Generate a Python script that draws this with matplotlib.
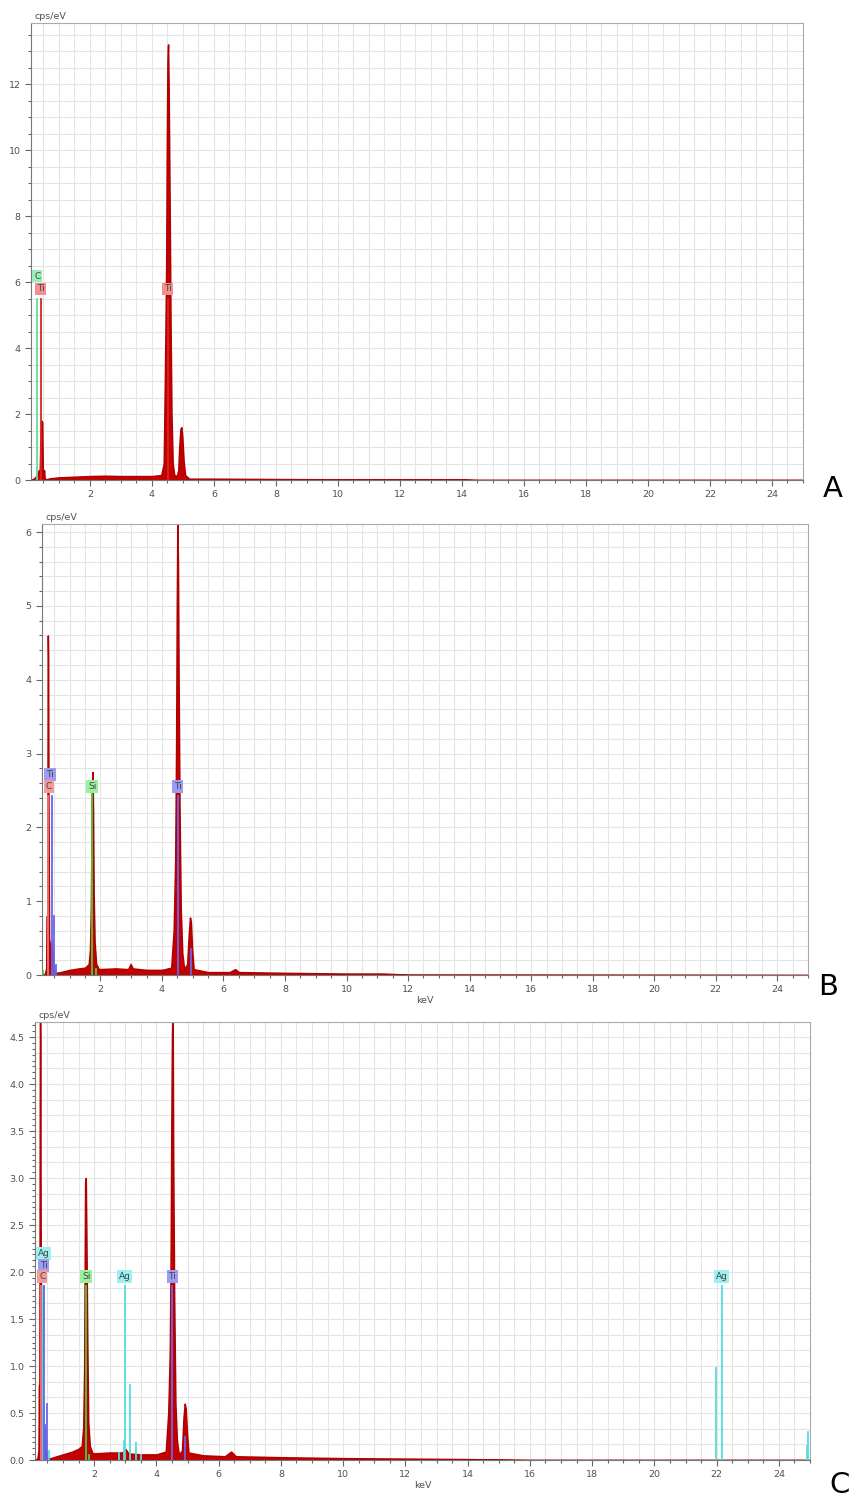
import numpy as np
import matplotlib.pyplot as plt
from matplotlib.ticker import MultipleLocator, FormatStrFormatter

# ---- spettro A (keV, cps/eV) ----
a_kev = [0.10, 0.20, 0.25, 0.30, 0.35, 0.38, 0.40, 0.43, 0.46, 0.48, 0.50, 0.52, 0.54,
         0.60, 0.70, 1.0, 1.5, 2.0, 2.5, 3.0, 3.5, 4.0, 4.30, 4.38, 4.42, 4.46, 4.48,
         4.50, 4.52, 4.54, 4.57, 4.60, 4.63, 4.67, 4.72, 4.80, 4.85, 4.88, 4.92, 4.95,
         4.98, 5.02, 5.07, 5.2, 6.0, 8.0, 10.0, 12.0, 14.0, 14.5, 25.0]
a_cps = [0.0, 0.05, 0.10, 0.20, 0.30, 0.20, 1.10, 1.80, 1.75, 0.30, 0.10, 0.30, 0.05,
         0.02, 0.05, 0.08, 0.10, 0.12, 0.13, 0.12, 0.12, 0.12, 0.15, 0.50, 3.20, 6.50, 10.2,
         12.7, 13.2, 11.8, 8.5, 4.8, 2.0, 0.5, 0.15, 0.12, 0.30, 1.00, 1.55, 1.60,
         1.30, 0.60, 0.15, 0.04, 0.04, 0.03, 0.02, 0.02, 0.02, 0.0, 0.0]
a_line_el = ['C', 'Ti', 'Ti']
a_line_kev = [0.30, 0.41, 4.51]
a_line_h = [5.5, 5.5, 5.5]
a_tag_el = ['C', 'Ti', 'Ti']
a_tag_kev = [0.30, 0.41, 4.51]
a_tag_y = [6.18, 5.79, 5.79]

# ---- spettro B ----
b_kev = [0.115, 0.20, 0.24, 0.26, 0.27, 0.28, 0.29, 0.30, 0.31, 0.33, 0.36, 0.38, 0.42,
         0.46, 0.50, 0.60, 0.80, 1.0, 1.3, 1.5, 1.62, 1.66, 1.69, 1.72, 1.74, 1.76, 1.78,
         1.81, 1.86, 1.95, 2.5, 2.9, 2.98, 3.05, 3.5, 4.0, 4.30, 4.38, 4.43, 4.46, 4.48,
         4.50, 4.52, 4.54, 4.57, 4.61, 4.66, 4.72, 4.82, 4.87, 4.91, 4.94, 4.98, 5.03,
         5.5, 6.2, 6.38, 6.5, 8.0, 10.0, 11.2, 12.0, 14.0, 25.0]
b_cps = [0.0, 0.02, 0.10, 0.80, 0.10, 2.95, 4.60, 4.30, 2.40, 0.50, 0.40, 0.10, 0.45,
         0.15, 0.05, 0.03, 0.05, 0.07, 0.09, 0.10, 0.15, 0.35, 0.95, 2.50, 2.75, 2.20, 1.10,
         0.45, 0.15, 0.08, 0.09, 0.08, 0.15, 0.09, 0.07, 0.07, 0.10, 0.60, 1.55, 3.10, 4.85,
         6.10, 5.60, 4.10, 2.30, 0.90, 0.30, 0.08, 0.15, 0.55, 0.78, 0.72, 0.35, 0.08,
         0.04, 0.04, 0.08, 0.04, 0.03, 0.02, 0.02, 0.005, 0.005, 0.0]
b_line_el = ['Si', 'C', 'Ti', 'Ti', 'Ti', 'Si', 'Si', 'Ti', 'Ti']
b_line_kev = [0.12, 0.28, 0.41, 0.48, 0.57, 1.74, 1.84, 4.51, 4.93]
b_line_h = [0.05, 2.43, 2.43, 0.80, 0.13, 2.45, 0.08, 2.43, 0.35]
b_tag_el = ['Ti', 'C', 'Si', 'Ti']
b_tag_kev = [0.36, 0.33, 1.74, 4.51]
b_tag_y = [2.72, 2.55, 2.55, 2.55]

# ---- spettro C ----
c_kev = [0.10, 0.18, 0.21, 0.23, 0.24, 0.25, 0.26, 0.27, 0.28, 0.29, 0.31, 0.33, 0.36,
         0.40, 0.44, 0.50, 0.60, 0.80, 1.0, 1.3, 1.5, 1.60, 1.65, 1.68, 1.71, 1.73, 1.75,
         1.78, 1.81, 1.86, 1.95, 2.5, 2.9, 3.0, 3.1, 3.5, 4.0, 4.30, 4.38, 4.43, 4.46,
         4.48, 4.50, 4.52, 4.54, 4.57, 4.61, 4.66, 4.72, 4.82, 4.87, 4.91, 4.94, 4.98,
         5.03, 5.5, 6.2, 6.4, 6.55, 8.0, 10.0, 12.0, 14.0, 16.0, 25.0]
c_cps = [0.0, 0.02, 0.10, 0.80, 0.30, 3.10, 4.90, 4.45, 2.50, 1.85, 0.45, 0.20, 0.05,
         0.35, 0.10, 0.02, 0.02, 0.04, 0.06, 0.09, 0.12, 0.15, 0.35, 1.00, 2.95, 3.00, 2.40,
         1.25, 0.40, 0.15, 0.07, 0.08, 0.08, 0.12, 0.07, 0.06, 0.06, 0.09, 0.50, 1.15, 2.30,
         3.60, 4.50, 4.90, 3.20, 1.75, 0.60, 0.20, 0.06, 0.10, 0.45, 0.60, 0.55, 0.30,
         0.08, 0.05, 0.04, 0.09, 0.04, 0.03, 0.02, 0.015, 0.01, 0.0, 0.0]
c_line_el = ['C', 'Ag', 'Ti', 'Ti', 'Ti', 'Ag', 'Si', 'Si', 'Ag', 'Ag', 'Ag', 'Ag',
             'Ag', 'Ag', 'Ti', 'Ti', 'Ag', 'Ag', 'Ag', 'Ag']
c_line_kev = [0.28, 0.35, 0.40, 0.43, 0.48, 0.56, 1.74, 1.84, 2.81, 2.95, 2.98, 3.15,
              3.35, 3.52, 4.51, 4.93, 21.99, 22.16, 24.90, 24.95]
c_line_h = [1.85, 1.85, 1.85, 0.37, 0.60, 0.10, 1.85, 0.05, 0.08, 0.20, 1.85, 0.80,
            0.18, 0.05, 1.85, 0.25, 0.98, 1.85, 0.15, 0.30]
c_tag_el = ['Ag', 'Ti', 'C', 'Si', 'Ag', 'Ti', 'Ag']
c_tag_kev = [0.38, 0.38, 0.33, 1.74, 2.98, 4.51, 22.16]
c_tag_y = [2.2, 2.07, 1.95, 1.95, 1.95, 1.95, 1.95]

# colori
red = '#c40000'
txt = '#505050'
line_col_a = {'C': '#66dd99', 'Ti': '#dd2222'}
tag_col_a = {'C': '#99eebb', 'Ti': '#f09090'}
line_col = {'C': '#ee7777', 'Ti': '#6666ee', 'Si': '#44cc44', 'Ag': '#55dddd'}
tag_col = {'C': '#f39a9a', 'Ti': '#9c9cf2', 'Si': '#9cf09c', 'Ag': '#9cf0f0'}

fig = plt.figure(figsize=(8.5, 15.01), dpi=100)


def pannello(rect, kev, cps, ymax, ygrid, ytick, ymajor, yfmt,
             l_el, l_kev, l_h, t_el, t_kev, t_y, lcol, tcol, lettera, lett_xy, xlab):
    ax = fig.add_axes(rect)
    ax.set_xlim(0.1, 25.0)
    ax.set_ylim(0, ymax)
    # griglia
    for gx in np.arange(0.5, 25.0, 0.5):
        ax.axvline(gx, color='#e4e4e4', lw=0.8, zorder=0)
    for gy in np.arange(ygrid, ymax, ygrid):
        ax.axhline(gy, color='#e4e4e4', lw=0.8, zorder=0)
    ax.fill_between(kev, cps, 0, color=red, lw=1.1, edgecolor='#b00000', zorder=2)
    for el, x, h in zip(l_el, l_kev, l_h):
        ax.plot([x, x], [0, h], color=lcol[el], lw=1.3, zorder=3)
    for el, x, y in zip(t_el, t_kev, t_y):
        ax.text(x, y, el, ha='center', va='center', fontsize=6.5, color='#444444',
                bbox=dict(boxstyle='square,pad=0.2', fc=tcol[el], ec='none'),
                zorder=4, clip_on=True)
    ax.xaxis.set_major_locator(MultipleLocator(2))
    ax.xaxis.set_minor_locator(MultipleLocator(0.5))
    ax.yaxis.set_major_locator(MultipleLocator(ymajor))
    ax.yaxis.set_minor_locator(MultipleLocator(ytick))
    ax.yaxis.set_major_formatter(FormatStrFormatter(yfmt))
    ax.tick_params(which='both', direction='out', colors='#666666', labelcolor=txt,
                   labelsize=6.8, width=0.8)
    ax.tick_params(which='major', length=4)
    ax.tick_params(which='minor', length=2.5)
    for s in ['top', 'right']:
        ax.spines[s].set_color('#aaaaaa')
    for s in ['left', 'bottom']:
        ax.spines[s].set_color('#777777')
    ax.text(0.005, 1.005, 'cps/eV', transform=ax.transAxes, fontsize=6.8, color=txt,
            ha='left', va='bottom')
    if xlab:
        ax.set_xlabel('keV', fontsize=6.8, color=txt, labelpad=1)
    fig.text(lett_xy[0], lett_xy[1], lettera, fontsize=21, color='black',
             ha='center', va='center')
    return ax


pannello([0.0365, 0.6802, 0.9082, 0.3045], a_kev, a_cps, 13.85, 0.5, 0.5, 2, '%d',
         a_line_el, a_line_kev, a_line_h, a_tag_el, a_tag_kev, a_tag_y,
         line_col_a, tag_col_a, 'A', (833 / 850, 1 - 489 / 1501), False)
pannello([0.0494, 0.3504, 0.9012, 0.3005], b_kev, b_cps, 6.11, 0.2, 0.2, 1, '%d',
         b_line_el, b_line_kev, b_line_h, b_tag_el, b_tag_kev, b_tag_y,
         line_col, tag_col, 'B', (828 / 850, 1 - 987 / 1501), True)
pannello([0.0412, 0.0273, 0.9118, 0.2918], c_kev, c_cps, 4.66, 1 / 6, 0.0625, 0.5, '%.1f',
         c_line_el, c_line_kev, c_line_h, c_tag_el, c_tag_kev, c_tag_y,
         line_col, tag_col, 'C', (840 / 850, 1 - 1485 / 1501), True)

fig.savefig('out.png', dpi=100)
